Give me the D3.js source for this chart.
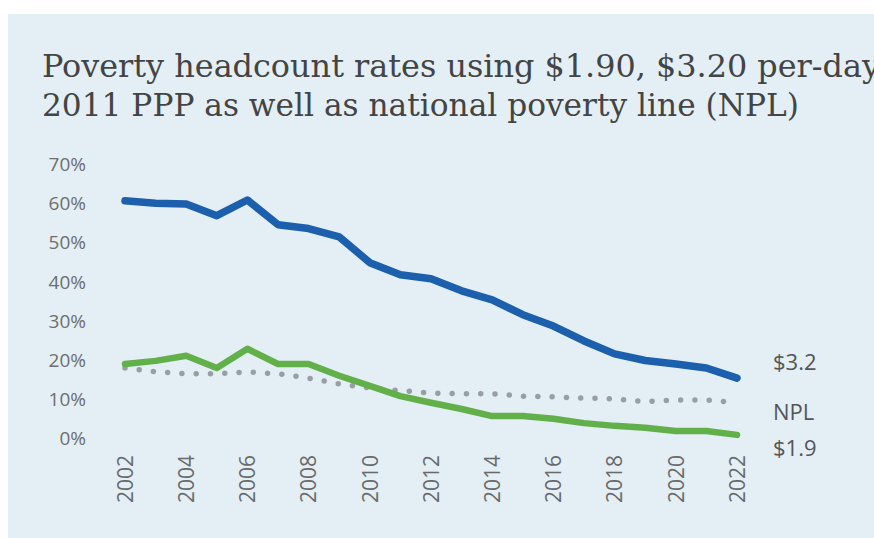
<!DOCTYPE html>
<html>
<head>
<meta charset="utf-8">
<script src="https://cdn.jsdelivr.net/npm/d3@7"></script>
<style>
  html, body { margin: 0; padding: 0; background: #ffffff; }
  svg { display: block; }
</style>
</head>
<body>
<svg id="chart" width="874" height="538"></svg>
<script>
// ---- data ----
const years = [2002,2003,2004,2005,2006,2007,2008,2009,2010,2011,2012,2013,2014,2015,2016,2017,2018,2019,2020,2021,2022];
const usd32 = [60.6,60.0,59.8,56.8,60.8,54.5,53.5,51.4,44.8,41.7,40.7,37.6,35.3,31.5,28.6,24.8,21.5,19.8,18.9,17.9,15.3];
const usd19 = [18.9,19.7,21.0,17.9,22.8,18.9,18.9,15.9,13.3,10.7,9.0,7.4,5.6,5.6,4.9,3.8,3.1,2.6,1.8,1.8,0.8];
const npl   = [17.9,16.9,16.4,16.4,16.9,16.4,15.3,13.8,12.8,12.1,11.5,11.3,11.3,10.7,10.5,10.2,10.0,9.3,9.7,9.7,9.0];
const yTicks = [0,10,20,30,40,50,60,70];
const xTicks = [2002,2004,2006,2008,2010,2012,2014,2016,2018,2020,2022];
const titleLines = ["Poverty headcount rates using $1.90, $3.20 per-day", "2011 PPP as well as national poverty line (NPL)"];
const seriesLabels = ["$3.2", "NPL", "$1.9"];

const svg = d3.select("#chart");

// background panel
svg.append("rect").attr("x", 8).attr("y", 14).attr("width", 866).attr("height", 524).attr("fill", "#e3eff5");

// title
const titleFont = "'DejaVu Serif Condensed', 'DejaVu Serif', serif";
svg.append("text").attr("x", 42).attr("y", 77).attr("font-family", titleFont)
  .attr("font-size", 31).attr("fill", "#444")
  .attr("textLength", 838).attr("lengthAdjust", "spacingAndGlyphs").text(titleLines[0]);
svg.append("text").attr("x", 42).attr("y", 116).attr("font-family", titleFont)
  .attr("font-size", 31).attr("fill", "#444")
  .attr("textLength", 757).attr("lengthAdjust", "spacingAndGlyphs").text(titleLines[1]);

// scales
const x = d3.scaleLinear().domain([2002, 2022]).range([125, 737]);
const y = d3.scaleLinear().domain([0, 70]).range([438, 164]);

// y axis (labels only)
const yAxis = svg.append("g").attr("transform", "translate(86,0)")
  .call(d3.axisLeft(y).tickValues(yTicks).tickFormat(d => d + "%").tickSize(0).tickPadding(0));
yAxis.select(".domain").remove();
yAxis.selectAll("text").attr("font-family", "Open Sans, sans-serif").attr("font-size", 19)
  .attr("fill", "#6e6e6e").attr("dy", "0.35em");

// x axis (rotated labels)
const xAxis = svg.append("g").attr("transform", "translate(0,455)")
  .call(d3.axisBottom(x).tickValues(xTicks).tickFormat(d3.format("d")).tickSize(0).tickPadding(0));
xAxis.select(".domain").remove();
xAxis.selectAll("text").attr("font-family", "Open Sans, sans-serif").attr("font-size", 21)
  .attr("fill", "#6a6a6a")
  .attr("transform", "rotate(-90)").attr("text-anchor", "end")
  .attr("x", 0).attr("y", 0).attr("dy", "0.35em");

const line = d3.line().x((d, i) => x(years[i])).y(d => y(d));

// NPL dotted
svg.append("path").datum(npl).attr("d", line).attr("fill", "none")
  .attr("stroke", "#999ea3").attr("stroke-width", 5.5).attr("stroke-linecap", "round")
  .attr("stroke-dasharray", "0 14.3");
// $1.9
svg.append("path").datum(usd19).attr("d", line).attr("fill", "none")
  .attr("stroke", "#62b04a").attr("stroke-width", 6.5).attr("stroke-linejoin", "round").attr("stroke-linecap", "round");
// $3.2
svg.append("path").datum(usd32).attr("d", line).attr("fill", "none")
  .attr("stroke", "#1b5fad").attr("stroke-width", 7.5).attr("stroke-linejoin", "round").attr("stroke-linecap", "round");

// end labels
const labelY = [362, 412, 448];
svg.selectAll("text.endlab").data(seriesLabels).enter().append("text").attr("class", "endlab")
  .attr("x", 773).attr("y", (d, i) => labelY[i]).attr("dy", "0.35em")
  .attr("font-family", "Open Sans, sans-serif").attr("font-size", 22).attr("fill", "#555")
  .text(d => d);
</script>
</body>
</html>
